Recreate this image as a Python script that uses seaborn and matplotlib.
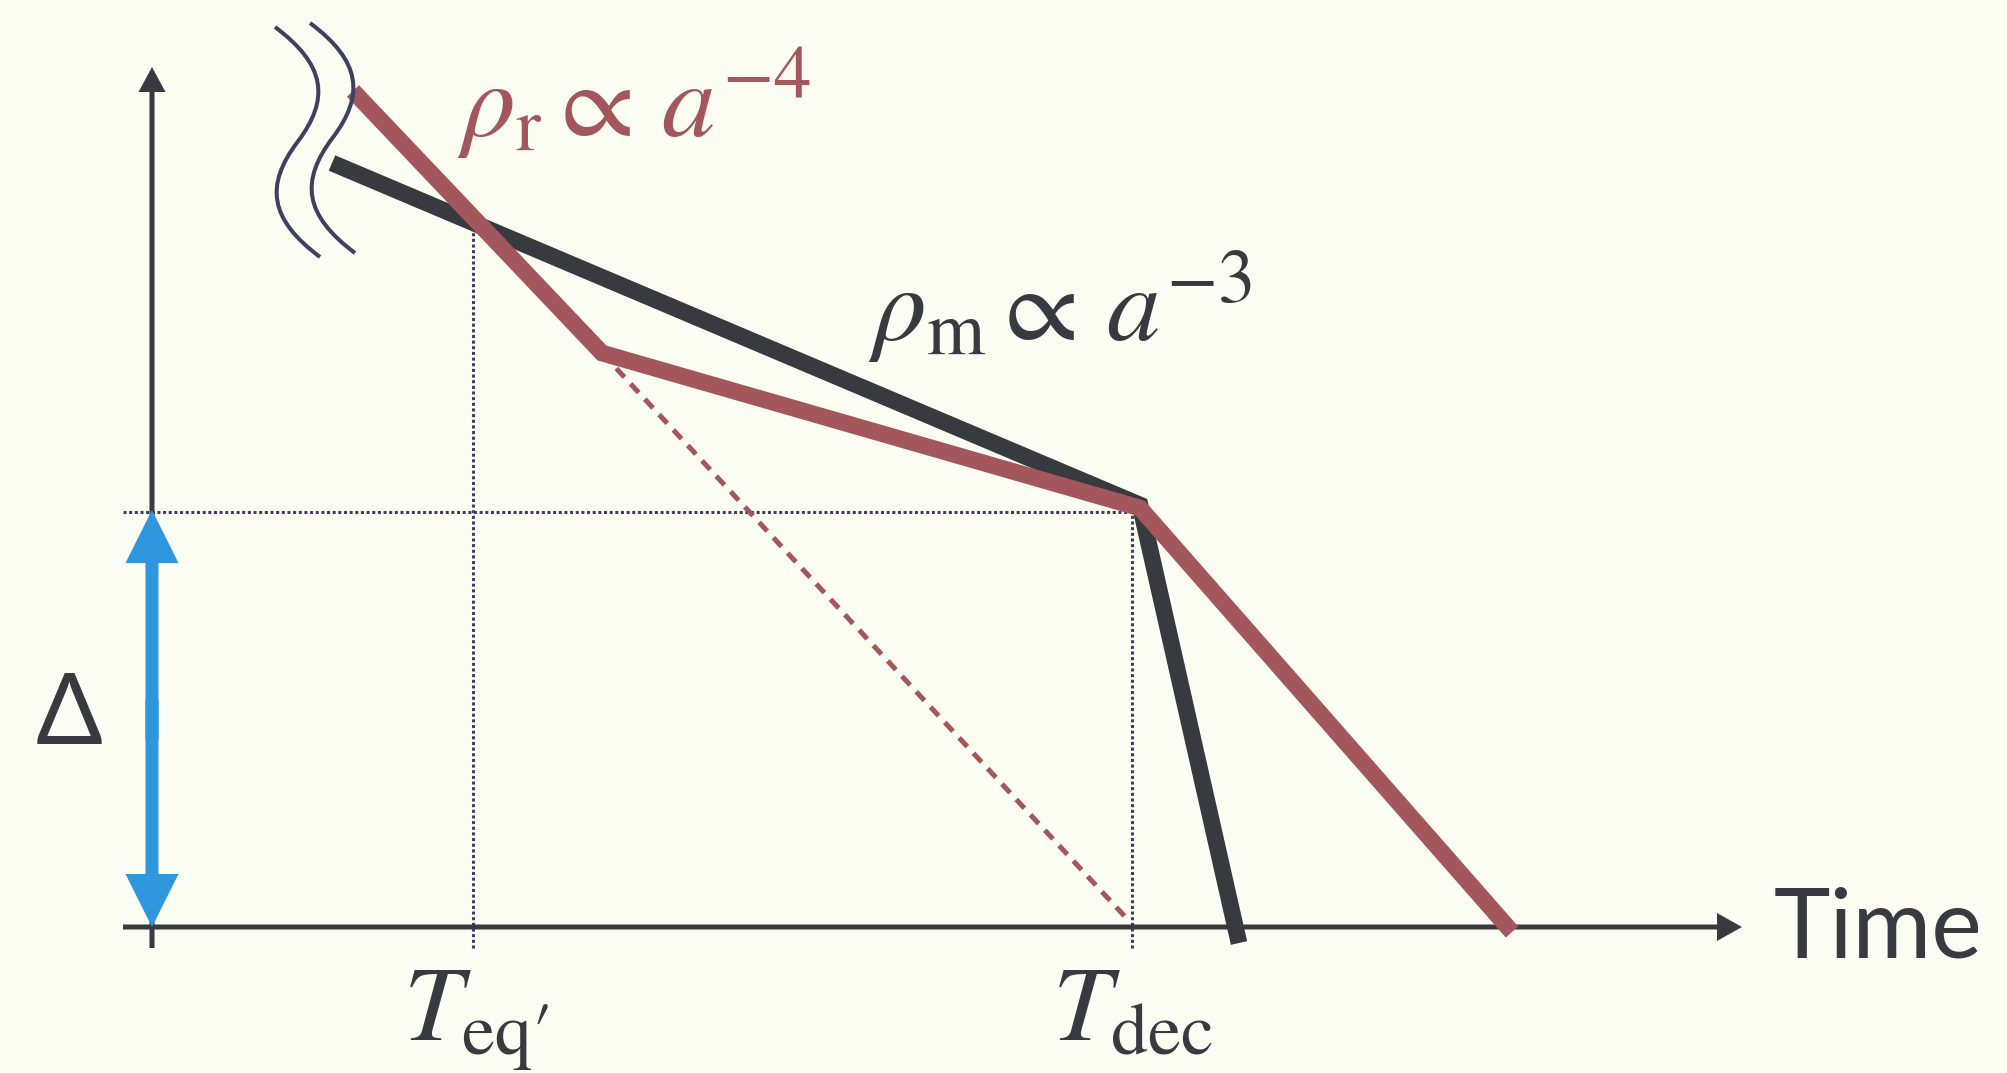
import numpy as np
import pandas as pd
import matplotlib.pyplot as plt
import seaborn as sns
from matplotlib.path import Path
from matplotlib.patches import PathPatch

# schematic values: time on x, log density on y, axes cross at (0, 0)
matter_t = [1.80, 9.88, 10.87]
matter_rho = [7.64, 4.22, -0.16]
rad_t = [2.01, 4.50, 9.88, 13.60]
rad_rho = [8.36, 5.74, 4.19, -0.05]
rad_extrap_t = [4.50, 9.78]
rad_extrap_rho = [5.74, 0.05]
t_eq = 3.21
t_eq_top = 6.97
t_dec = 9.80
rho_dec = 4.15
axis_top = 8.60
axis_right = 15.90

# break mark on the left ends (bezier nodes of one stroke, second stroke shifted)
break_x = [1.23, 1.74, 1.78, 1.455, 1.13, 1.17, 1.68]
break_y = [9.00, 8.62, 8.28, 7.85, 7.42, 7.08, 6.70]
break_shift = (0.35, 0.04)

bg = '#fbfcf2'
dark = '#373a3f'
red = '#a3565b'
blue = '#2f97dd'
navy = '#3d4060'

sns.set_theme(style='white')
plt.rcParams['font.family'] = ['Lato', 'DejaVu Sans']
plt.rcParams['mathtext.fontset'] = 'stix'

fig = plt.figure(figsize=(20.08, 10.73), dpi=100, facecolor=bg)
ax = fig.add_axes([0, 0, 1, 1], facecolor=bg)
ax.set_xlim(-1.52, 18.56)
ax.set_ylim(-1.46, 9.27)

# guide lines
dots = dict(color=navy, lw=2.2, linestyle=(0, (1, 0.85)), zorder=1)
ax.plot([-0.29, t_dec], [rho_dec, rho_dec], **dots)
ax.plot([t_eq, t_eq], [-0.21, t_eq_top], **dots)
ax.plot([t_dec, t_dec], [-0.21, rho_dec], **dots)

# axes with arrows
ax.arrow(0, -0.21, 0, axis_top + 0.21, width=0.05, head_width=0.27, head_length=0.25,
         length_includes_head=True, color=dark, lw=0, zorder=2)
ax.arrow(-0.29, 0, axis_right + 0.29, 0, width=0.05, head_width=0.28, head_length=0.25,
         length_includes_head=True, color=dark, lw=0, zorder=2)

# density curves
matter = pd.DataFrame({'t': matter_t, 'rho': matter_rho})
rad = pd.DataFrame({'t': rad_t, 'rho': rad_rho})
extrap = pd.DataFrame({'t': rad_extrap_t, 'rho': rad_extrap_rho})
sns.lineplot(data=extrap, x='t', y='rho', sort=False, estimator=None, ax=ax, color=red,
             lw=3.6, linestyle=(0, (2.4, 1.8)), dash_capstyle='butt', zorder=3)
sns.lineplot(data=matter, x='t', y='rho', sort=False, estimator=None, ax=ax, color=dark,
             lw=12, solid_capstyle='butt', solid_joinstyle='miter', zorder=4)
sns.lineplot(data=rad, x='t', y='rho', sort=False, estimator=None, ax=ax, color=red,
             lw=12, solid_capstyle='butt', solid_joinstyle='miter', zorder=5)
ax.axis('off')

# Delta arrow
mid = rho_dec / 2
ax.arrow(0, mid - 0.2, 0, rho_dec - mid + 0.22, width=0.13, head_width=0.53, head_length=0.53,
         length_includes_head=True, color=blue, lw=0, zorder=6)
ax.arrow(0, mid + 0.2, 0, -mid - 0.2, width=0.13, head_width=0.53, head_length=0.53,
         length_includes_head=True, color=blue, lw=0, zorder=6)

# break marks
codes = [Path.MOVETO] + [Path.CURVE4] * 6
for k in range(2):
    verts = np.column_stack([np.array(break_x) + k * break_shift[0],
                             np.array(break_y) + k * break_shift[1]])
    ax.add_patch(PathPatch(Path(verts, codes), facecolor='none', edgecolor=navy,
                           lw=2.9, zorder=7))

# labels
ax.text(3.05, 7.90, r'$\rho_{\mathrm{r}}\propto\,a^{-4}$', color=red, fontsize=77,
        ha='left', va='baseline')
ax.text(7.16, 5.86, r'$\rho_{\mathrm{m}}\propto\,a^{-3}$', color=dark, fontsize=77,
        ha='left', va='baseline')
ax.text(2.51, -1.13, r'$T_{\mathrm{eq}\prime}$', color=dark, fontsize=76, ha='left', va='baseline')
ax.text(9.00, -1.13, r'$T_{\mathrm{dec}}$', color=dark, fontsize=76, ha='left', va='baseline')
ax.text(16.22, -0.30, 'Time', color=dark, fontsize=69, ha='left', va='baseline')
ax.text(-0.83, 2.11, '\u0394', color=dark, fontsize=71, ha='center', va='center')

fig.savefig('out.png', dpi=100, facecolor=bg)
